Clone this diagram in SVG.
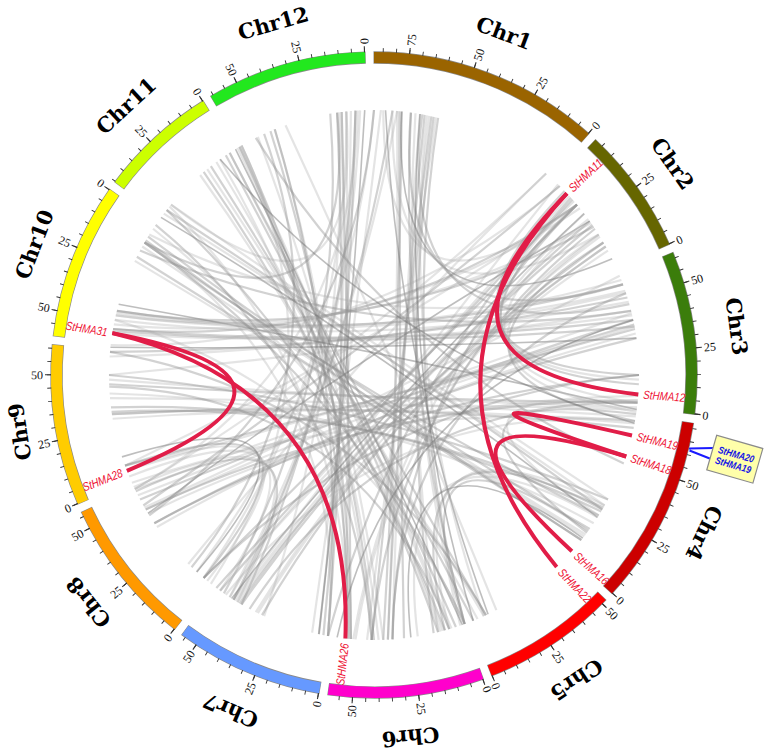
<svg xmlns="http://www.w3.org/2000/svg" width="774" height="752" viewBox="0 0 774 752">
<style>
.bo{fill:none;stroke:#8a8a8a;stroke-width:12.4}
.band{fill:none;stroke-width:11}
.tk{fill:none;stroke:#333;stroke-width:4}
.tM{fill:none;stroke:#333;stroke-width:6}
.tl{font-family:"Liberation Serif",serif;font-size:12px;fill:#111;dominant-baseline:central}
.e{text-anchor:end}
.cn{font-family:"DejaVu Serif",serif;font-weight:bold;font-size:21px;fill:#000;text-anchor:middle;dominant-baseline:central}
.gl{font-family:"Liberation Sans",sans-serif;font-style:italic;font-size:12px;fill:#ee1133;dominant-baseline:central}
.ch use{fill:none}
.a{stroke:#8a8a8a;stroke-opacity:.38;stroke-width:2.2}
.b{stroke:#aaaaaa;stroke-opacity:.32;stroke-width:2.2}
.c{stroke:#6e6e6e;stroke-opacity:.45;stroke-width:1.6}
.red path{fill:none;stroke:#e11d48;stroke-width:4}
.bx{font-family:"Liberation Sans",sans-serif;font-style:italic;font-weight:bold;font-size:10px;fill:#1414e6;text-anchor:middle;dominant-baseline:central}
</style>
<defs>
<path id="k13" d="M-59.61,-258.21Q0,-25 59.61,-258.21"/>
<path id="k14" d="M-64.11,-257.13Q0,-25 64.11,-257.13"/>
<path id="k15" d="M-68.59,-255.97Q0,-25 68.59,-255.97"/>
<path id="k16" d="M-73.04,-254.73Q0,-25 73.04,-254.73"/>
<path id="k17" d="M-77.48,-253.42Q0,-25 77.48,-253.42"/>
<path id="k20" d="M-90.64,-249.02Q0,-25 90.64,-249.02"/>
<path id="k21" d="M-94.97,-247.4Q0,-25 94.97,-247.4"/>
<path id="k22" d="M-99.27,-245.7Q0,-25 99.27,-245.7"/>
<path id="k24" d="M-107.79,-242.09Q0,-25 107.79,-242.09"/>
<path id="k26" d="M-116.17,-238.18Q0,-25 116.17,-238.18"/>
<path id="k27" d="M-120.31,-236.12Q0,-25 120.31,-236.12"/>
<path id="k29" d="M-128.47,-231.77Q0,-25 128.47,-231.77"/>
<path id="k31" d="M-136.48,-227.15Q0,-25 136.48,-227.15"/>
<path id="k32" d="M-140.43,-224.73Q0,-25 140.43,-224.73"/>
<path id="k52" d="M-208.82,-163.15Q0,-25 208.82,-163.15"/>
<path id="k55" d="M-217.08,-152Q0,-25 217.08,-152"/>
<path id="k56" d="M-219.7,-148.19Q0,-25 219.7,-148.19"/>
<path id="k57" d="M-222.25,-144.33Q0,-25 222.25,-144.33"/>
<path id="k60" d="M-229.5,-132.5Q0,-25 229.5,-132.5"/>
<path id="k61" d="M-231.77,-128.47Q0,-25 231.77,-128.47"/>
<path id="k62" d="M-233.98,-124.41Q0,-25 233.98,-124.41"/>
<path id="k63" d="M-236.12,-120.31Q0,-25 236.12,-120.31"/>
<path id="k64" d="M-238.18,-116.17Q0,-25 238.18,-116.17"/>
<path id="k65" d="M-240.17,-111.99Q0,-25 240.17,-111.99"/>
<path id="k66" d="M-242.09,-107.79Q0,-25 242.09,-107.79"/>
<path id="k67" d="M-243.93,-103.54Q0,-25 243.93,-103.54"/>
<path id="k68" d="M-245.7,-99.27Q0,-25 245.7,-99.27"/>
<path id="k69" d="M-247.4,-94.97Q0,-25 247.4,-94.97"/>
<path id="k70" d="M-249.02,-90.64Q0,-25 249.02,-90.64"/>
<path id="k71" d="M-250.56,-86.28Q0,-25 250.56,-86.28"/>
<path id="k72" d="M-252.03,-81.89Q0,-25 252.03,-81.89"/>
<path id="k73" d="M-253.42,-77.48Q0,-25 253.42,-77.48"/>
<path id="k74" d="M-254.73,-73.04Q0,-25 254.73,-73.04"/>
<path id="k75" d="M-255.97,-68.59Q0,-25 255.97,-68.59"/>
<path id="k76" d="M-257.13,-64.11Q0,-25 257.13,-64.11"/>
<path id="k77" d="M-258.21,-59.61Q0,-25 258.21,-59.61"/>
<path id="k78" d="M-259.21,-55.1Q0,-25 259.21,-55.1"/>
<path id="k79" d="M-260.13,-50.56Q0,-25 260.13,-50.56"/>
<path id="k80" d="M-260.97,-46.02Q0,-25 260.97,-46.02"/>
<path id="k81" d="M-261.74,-41.46Q0,-25 261.74,-41.46"/>
<path id="k82" d="M-262.42,-36.88Q0,-25 262.42,-36.88"/>
<path id="k83" d="M-263.03,-32.3Q0,-25 263.03,-32.3"/>
<path id="k84" d="M-263.55,-27.7Q0,-25 263.55,-27.7"/>
<path id="k85" d="M-263.99,-23.1Q0,-25 263.99,-23.1"/>
<path id="k86" d="M-264.35,-18.49Q0,-25 264.35,-18.49"/>
<path id="k88" d="M-264.84,-9.25Q0,-25 264.84,-9.25"/>
<path id="k89" d="M-264.96,-4.62Q0,-25 264.96,-4.62"/>
</defs>
<rect width="774" height="752" fill="#fff"/>

<g id="connectors">
<g class="ch" transform="translate(374,375)">
<use href="#k81" class="a" transform="rotate(271)"/>
<use href="#k84" class="b" transform="rotate(270)"/>
<use href="#k82" class="a" transform="rotate(274)"/>
<use href="#k83" class="c" transform="rotate(275)"/>
<use href="#k86" class="a" transform="rotate(92)"/>
<use href="#k83" class="b" transform="rotate(93)"/>
<use href="#k84" class="a" transform="rotate(96.5)"/>
<use href="#k84" class="b" transform="rotate(277.5)"/>
<use href="#k84" class="a" transform="rotate(89.5)"/>
<use href="#k73" class="a" transform="rotate(283)"/>
<use href="#k69" class="b" transform="rotate(291)"/>
<use href="#k76" class="a" transform="rotate(288)"/>
<use href="#k74" class="b" transform="rotate(278.5)"/>
<use href="#k76" class="a" transform="rotate(84)"/>
<use href="#k77" class="b" transform="rotate(89)"/>
<use href="#k76" class="c" transform="rotate(78.5)"/>
<use href="#k75" class="a" transform="rotate(255)"/>
<use href="#k76" class="b" transform="rotate(262)"/>
<use href="#k63" class="a" transform="rotate(113)"/>
<use href="#k63" class="b" transform="rotate(121)"/>
<use href="#k81" class="b" transform="rotate(272)"/>
<use href="#k84" class="a" transform="rotate(269)"/>
<use href="#k82" class="b" transform="rotate(273)"/>
<use href="#k86" class="b" transform="rotate(91)"/>
<use href="#k83" class="a" transform="rotate(94)"/>
<use href="#k84" class="b" transform="rotate(97.5)"/>
<use href="#k73" class="b" transform="rotate(284)"/>
<use href="#k76" class="b" transform="rotate(289)"/>
<use href="#k76" class="b" transform="rotate(85)"/>
<use href="#k77" class="a" transform="rotate(90)"/>
<use href="#k75" class="b" transform="rotate(254)"/>
<use href="#k76" class="a" transform="rotate(261)"/>
<use href="#k29" class="c" transform="rotate(35)"/>
<use href="#k31" class="a" transform="rotate(39)"/>
<use href="#k27" class="b" transform="rotate(31)"/>
<use href="#k32" class="a" transform="rotate(42.5)"/>
<use href="#k24" class="b" transform="rotate(26)"/>
<use href="#k26" class="a" transform="rotate(326)"/>
<use href="#k22" class="b" transform="rotate(332)"/>
<use href="#k68" class="a" transform="rotate(282.5)"/>
<use href="#k67" class="b" transform="rotate(287)"/>
<use href="#k73" class="a" transform="rotate(87)"/>
<use href="#k72" class="b" transform="rotate(83.5)"/>
<use href="#k77" class="a" transform="rotate(243)"/>
<use href="#k80" class="b" transform="rotate(243.5)"/>
<use href="#k82" class="a" transform="rotate(244)"/>
<use href="#k84" class="c" transform="rotate(244.5)"/>
<use href="#k86" class="b" transform="rotate(66.5)"/>
<use href="#k82" class="a" transform="rotate(240)"/>
<use href="#k82" class="b" transform="rotate(247.5)"/>
<use href="#k86" class="a" transform="rotate(241)"/>
<use href="#k77" class="b" transform="rotate(242)"/>
<use href="#k82" class="b" transform="rotate(245)"/>
<use href="#k82" class="b" transform="rotate(239)"/>
<use href="#k72" class="b" transform="rotate(252.5)"/>
<use href="#k72" class="a" transform="rotate(257.5)"/>
<use href="#k78" class="b" transform="rotate(256)"/>
<use href="#k74" class="a" transform="rotate(264)"/>
<use href="#k88" class="b" transform="rotate(312.5)"/>
<use href="#k84" class="a" transform="rotate(132.5)"/>
<use href="#k80" class="c" transform="rotate(132.5)"/>
<use href="#k78" class="a" transform="rotate(132.5)"/>
<use href="#k74" class="b" transform="rotate(132.5)"/>
<use href="#k72" class="a" transform="rotate(133)"/>
<use href="#k84" class="b" transform="rotate(128)"/>
<use href="#k85" class="a" transform="rotate(135)"/>
<use href="#k80" class="b" transform="rotate(135.5)"/>
<use href="#k75" class="a" transform="rotate(135)"/>
<use href="#k84" class="b" transform="rotate(131.5)"/>
<use href="#k78" class="b" transform="rotate(133.5)"/>
<use href="#k72" class="b" transform="rotate(134)"/>
<use href="#k75" class="b" transform="rotate(136)"/>
<use href="#k78" class="b" transform="rotate(322.5)"/>
<use href="#k82" class="a" transform="rotate(322.5)"/>
<use href="#k80" class="b" transform="rotate(330)"/>
<use href="#k88" class="c" transform="rotate(326.5)"/>
<use href="#k71" class="a" transform="rotate(119)"/>
<use href="#k66" class="b" transform="rotate(118.5)"/>
<use href="#k62" class="a" transform="rotate(118.5)"/>
<use href="#k73" class="a" transform="rotate(357)"/>
<use href="#k76" class="b" transform="rotate(358)"/>
<use href="#k79" class="a" transform="rotate(359)"/>
<use href="#k83" class="c" transform="rotate(359)"/>
<use href="#k86" class="a" transform="rotate(182)"/>
<use href="#k83" class="b" transform="rotate(182)"/>
<use href="#k80" class="a" transform="rotate(181.5)"/>
<use href="#k79" class="b" transform="rotate(353)"/>
<use href="#k86" class="c" transform="rotate(11.5)"/>
<use href="#k83" class="b" transform="rotate(353)"/>
<use href="#k74" class="b" transform="rotate(357.5)"/>
<use href="#k80" class="a" transform="rotate(359.5)"/>
<use href="#k82" class="b" transform="rotate(179.5)"/>
<use href="#k73" class="b" transform="rotate(356)"/>
<use href="#k79" class="b" transform="rotate(358)"/>
<use href="#k79" class="a" transform="rotate(354)"/>
<use href="#k86" class="b" transform="rotate(183)"/>
<use href="#k80" class="b" transform="rotate(180.5)"/>
<use href="#k71" class="a" transform="rotate(191)"/>
<use href="#k71" class="b" transform="rotate(195)"/>
<use href="#k76" class="a" transform="rotate(194)"/>
<use href="#k71" class="a" transform="rotate(192)"/>
<use href="#k65" class="a" transform="rotate(345)"/>
<use href="#k64" class="b" transform="rotate(340.5)"/>
<use href="#k66" class="a" transform="rotate(350)"/>
<use href="#k65" class="b" transform="rotate(346)"/>
<use href="#k66" class="b" transform="rotate(349)"/>
<use href="#k84" class="a" transform="rotate(212.5)"/>
<use href="#k86" class="b" transform="rotate(213)"/>
<use href="#k88" class="a" transform="rotate(213.5)"/>
<use href="#k88" class="c" transform="rotate(34.5)"/>
<use href="#k86" class="a" transform="rotate(34.5)"/>
<use href="#k84" class="b" transform="rotate(34)"/>
<use href="#k89" class="a" transform="rotate(211)"/>
<use href="#k84" class="b" transform="rotate(211.5)"/>
<use href="#k86" class="a" transform="rotate(214.5)"/>
<use href="#k86" class="b" transform="rotate(33.5)"/>
<use href="#k70" class="a" transform="rotate(230)"/>
<use href="#k74" class="b" transform="rotate(229.5)"/>
<use href="#k72" class="a" transform="rotate(236.5)"/>
<use href="#k77" class="a" transform="rotate(159)"/>
<use href="#k80" class="b" transform="rotate(159.5)"/>
<use href="#k82" class="a" transform="rotate(160)"/>
<use href="#k84" class="b" transform="rotate(160.5)"/>
<use href="#k86" class="b" transform="rotate(154)"/>
<use href="#k85" class="a" transform="rotate(165)"/>
<use href="#k77" class="b" transform="rotate(158)"/>
<use href="#k82" class="b" transform="rotate(161)"/>
<use href="#k85" class="b" transform="rotate(164)"/>
<use href="#k72" class="a" transform="rotate(167.5)"/>
<use href="#k73" class="b" transform="rotate(173)"/>
<use href="#k73" class="a" transform="rotate(163)"/>
<use href="#k72" class="b" transform="rotate(166.5)"/>
<use href="#k15" class="a" transform="rotate(235)"/>
<use href="#k16" class="b" transform="rotate(231.5)"/>
<use href="#k16" class="a" transform="rotate(228)"/>
<use href="#k15" class="c" transform="rotate(237)"/>
<use href="#k15" class="b" transform="rotate(234)"/>
<use href="#k16" class="b" transform="rotate(229)"/>
<use href="#k22" class="a" transform="rotate(142.5)"/>
<use href="#k24" class="b" transform="rotate(146.5)"/>
<use href="#k17" class="a" transform="rotate(143)"/>
<use href="#k22" class="c" transform="rotate(150)"/>
<use href="#k22" class="b" transform="rotate(141.5)"/>
<use href="#k21" class="a" transform="rotate(71)"/>
<use href="#k21" class="b" transform="rotate(75)"/>
<use href="#k22" class="a" transform="rotate(68)"/>
<use href="#k20" class="b" transform="rotate(78)"/>
<use href="#k20" class="a" transform="rotate(80)"/>
<use href="#k21" class="b" transform="rotate(70)"/>
<use href="#k22" class="b" transform="rotate(72)"/>
<use href="#k13" class="b" transform="rotate(109)"/>
<use href="#k14" class="a" transform="rotate(112.5)"/>
<use href="#k62" class="a" transform="rotate(242.5)"/>
<use href="#k62" class="b" transform="rotate(247.5)"/>
<use href="#k55" class="c" transform="rotate(133)"/>
<use href="#k52" class="a" transform="rotate(124)"/>
<use href="#k55" class="b" transform="rotate(245)"/>
<use href="#k60" class="a" transform="rotate(215)"/>
<use href="#k61" class="b" transform="rotate(221)"/>
<use href="#k52" class="a" transform="rotate(215.5)"/>
<use href="#k74" class="c" transform="rotate(84)"/>
<use href="#k56" class="a" transform="rotate(152)"/>
<use href="#k57" class="b" transform="rotate(157)"/>
<use href="#k65" class="a" transform="rotate(155)"/>
<use href="#k56" class="b" transform="rotate(274)"/>
<use href="#k56" class="a" transform="rotate(279.5)"/>
<use href="#k64" class="b" transform="rotate(6)"/>
<use href="#k69" class="a" transform="rotate(7)"/>
<use href="#k68" class="c" transform="rotate(32.5)"/>
<use href="#k68" class="a" transform="rotate(41.5)"/>
<use href="#k56" class="b" transform="rotate(300.5)"/>
<use href="#k61" class="a" transform="rotate(299)"/>
</g>
<g class="red">
<path d="M566.9,193.3Q397.6,366.6 638.3,394.4"/>
<path d="M566.9,193.3Q399,375.7 556.7,566.9"/>
<path d="M632,435.5Q398.1,381.7 626.2,456.5"/>
<path d="M626.2,456.5Q395.7,387.4 571.9,551.3"/>
<path d="M112.3,333.1Q349.1,377.6 126.9,470.8"/>
<path d="M112.3,333.1Q354.1,390.2 345.4,638.5"/>
</g>
<path d="M689,448.5L713.5,448M689.5,450.5L711,459" fill="none" stroke="#1a1aff" stroke-width="2"/>
</g>

<g id="chr1" transform="translate(374,375)">
<circle r="317.5" class="bo" stroke-dasharray="231.94 3000" transform="rotate(-90.09)"/>
<circle r="317.5" class="band" stroke="#9a6400" stroke-dasharray="230.94 3000" transform="rotate(-90)"/>
<circle r="325" class="tk" stroke-dasharray="0.9 12.43 0.9 12.43 0.9 12.43 0.9 12.43 0.9 12.43 0.9 12.43 0.9 12.43 0.9 12.43 0.9 12.43 0.9 12.43 0.9 12.43 0.9 12.43 0.9 12.43 0.9 12.43 0.9 12.43 0.9 12.43 0.9 12.43 0.9 3000" transform="rotate(-48.324) scale(1,-1)"/>
<circle r="326" class="tM" stroke-dasharray="1.1 65.76 1.1 65.76 1.1 65.76 1.1 3000" transform="rotate(-48.324) scale(1,-1)"/>
<text class="tl" transform="rotate(-48.324)" x="331">0</text>
<text class="tl" transform="rotate(-60.075)" x="331">25</text>
<text class="tl" transform="rotate(-71.827)" x="331">50</text>
<text class="tl" transform="rotate(-83.578)" x="331">75</text>
<text class="cn" transform="rotate(20.838)" y="-366">Chr1</text>
</g>
<g id="chr2" transform="translate(374,375)">
<circle r="317.5" class="bo" stroke-dasharray="127.62 3000" transform="rotate(-46.814)"/>
<circle r="317.5" class="band" stroke="#666600" stroke-dasharray="126.62 3000" transform="rotate(-46.724)"/>
<circle r="325" class="tk" stroke-dasharray="0.9 12.43 0.9 12.43 0.9 12.43 0.9 12.43 0.9 12.43 0.9 12.43 0.9 12.43 0.9 12.43 0.9 12.43 0.9 3000" transform="rotate(-23.874) scale(1,-1)"/>
<circle r="326" class="tM" stroke-dasharray="1.1 65.76 1.1 3000" transform="rotate(-23.874) scale(1,-1)"/>
<text class="tl" transform="rotate(-23.874)" x="331">0</text>
<text class="tl" transform="rotate(-35.625)" x="331">25</text>
<text class="cn" transform="rotate(54.701)" y="-366">Chr2</text>
</g>
<g id="chr3" transform="translate(374,375)">
<circle r="317.5" class="bo" stroke-dasharray="163.25 3000" transform="rotate(-22.364)"/>
<circle r="317.5" class="band" stroke="#3b7d0b" stroke-dasharray="162.25 3000" transform="rotate(-22.274)"/>
<circle r="325" class="tk" stroke-dasharray="0.9 12.43 0.9 12.43 0.9 12.43 0.9 12.43 0.9 12.43 0.9 12.43 0.9 12.43 0.9 12.43 0.9 12.43 0.9 12.43 0.9 12.43 0.9 12.43 0.9 3000" transform="rotate(7.006) scale(1,-1)"/>
<circle r="326" class="tM" stroke-dasharray="1.1 65.76 1.1 65.76 1.1 3000" transform="rotate(7.006) scale(1,-1)"/>
<text class="tl" transform="rotate(7.006)" x="331">0</text>
<text class="tl" transform="rotate(-4.745)" x="331">25</text>
<text class="tl" transform="rotate(-16.497)" x="331">50</text>
<text class="cn" transform="rotate(82.366)" y="-366">Chr3</text>
</g>
<g id="chr4" transform="translate(374,375)">
<circle r="317.5" class="bo" stroke-dasharray="189.09 3000" transform="rotate(8.516)"/>
<circle r="317.5" class="band" stroke="#cc0000" stroke-dasharray="188.09 3000" transform="rotate(8.606)"/>
<circle r="325" class="tk" stroke-dasharray="0.9 12.43 0.9 12.43 0.9 12.43 0.9 12.43 0.9 12.43 0.9 12.43 0.9 12.43 0.9 12.43 0.9 12.43 0.9 12.43 0.9 12.43 0.9 12.43 0.9 12.43 0.9 12.43 0.9 3000" transform="rotate(42.549) scale(1,-1)"/>
<circle r="326" class="tM" stroke-dasharray="1.1 65.76 1.1 65.76 1.1 3000" transform="rotate(42.549) scale(1,-1)"/>
<text class="tl" transform="rotate(42.549)" x="331">0</text>
<text class="tl" transform="rotate(30.798)" x="331">25</text>
<text class="tl" transform="rotate(19.046)" x="331">50</text>
<text class="cn" transform="rotate(115.578)" y="-366">Chr4</text>
</g>
<g id="chr5" transform="translate(374,375)">
<circle r="317.5" class="bo" stroke-dasharray="136.63 3000" transform="rotate(44.059)"/>
<circle r="317.5" class="band" stroke="#ff0000" stroke-dasharray="135.63 3000" transform="rotate(44.149)"/>
<circle r="325" class="tk" stroke-dasharray="0.9 12.43 0.9 12.43 0.9 12.43 0.9 12.43 0.9 12.43 0.9 12.43 0.9 12.43 0.9 12.43 0.9 12.43 0.9 12.43 0.9 3000" transform="rotate(68.625) scale(1,-1)"/>
<circle r="326" class="tM" stroke-dasharray="1.1 65.76 1.1 65.76 1.1 3000" transform="rotate(68.625) scale(1,-1)"/>
<text class="tl" transform="rotate(68.625)" x="331">0</text>
<text class="tl" transform="rotate(56.874)" x="331">25</text>
<text class="tl" transform="rotate(45.122)" x="331">50</text>
<text class="cn" transform="rotate(146.387)" y="-366">Chr5</text>
</g>
<g id="chr6" transform="translate(374,375)">
<circle r="317.5" class="bo" stroke-dasharray="156.07 3000" transform="rotate(70.135)"/>
<circle r="317.5" class="band" stroke="#ff00cc" stroke-dasharray="155.07 3000" transform="rotate(70.225)"/>
<circle r="325" class="tk" stroke-dasharray="0.9 12.43 0.9 12.43 0.9 12.43 0.9 12.43 0.9 12.43 0.9 12.43 0.9 12.43 0.9 12.43 0.9 12.43 0.9 12.43 0.9 12.43 0.9 3000" transform="rotate(70.225)"/>
<circle r="326" class="tM" stroke-dasharray="1.1 65.76 1.1 65.76 1.1 3000" transform="rotate(70.225)"/>
<text class="tl" transform="rotate(70.225)" x="331">0</text>
<text class="tl" transform="rotate(81.977)" x="331">25</text>
<text class="tl e" transform="rotate(273.728)" x="-331">50</text>
<text class="cn" transform="rotate(174.217)" y="-364">Chr6</text>
</g>
<g id="chr7" transform="translate(374,375)">
<circle r="317.5" class="bo" stroke-dasharray="148.85 3000" transform="rotate(99.718)"/>
<circle r="317.5" class="band" stroke="#6699ff" stroke-dasharray="147.85 3000" transform="rotate(99.808)"/>
<circle r="325" class="tk" stroke-dasharray="0.9 12.43 0.9 12.43 0.9 12.43 0.9 12.43 0.9 12.43 0.9 12.43 0.9 12.43 0.9 12.43 0.9 12.43 0.9 12.43 0.9 12.43 0.9 3000" transform="rotate(99.808)"/>
<circle r="326" class="tM" stroke-dasharray="1.1 65.76 1.1 65.76 1.1 3000" transform="rotate(99.808)"/>
<text class="tl e" transform="rotate(279.808)" x="-331">0</text>
<text class="tl e" transform="rotate(291.56)" x="-331">25</text>
<text class="tl e" transform="rotate(303.311)" x="-331">50</text>
<text class="cn" transform="rotate(203.149)" y="-365">Chr7</text>
</g>
<g id="chr8" transform="translate(374,375)">
<circle r="317.5" class="bo" stroke-dasharray="149.31 3000" transform="rotate(127.999)"/>
<circle r="317.5" class="band" stroke="#ff9900" stroke-dasharray="148.31 3000" transform="rotate(128.089)"/>
<circle r="325" class="tk" stroke-dasharray="0.9 12.43 0.9 12.43 0.9 12.43 0.9 12.43 0.9 12.43 0.9 12.43 0.9 12.43 0.9 12.43 0.9 12.43 0.9 12.43 0.9 12.43 0.9 3000" transform="rotate(128.089)"/>
<circle r="326" class="tM" stroke-dasharray="1.1 65.76 1.1 65.76 1.1 3000" transform="rotate(128.089)"/>
<text class="tl e" transform="rotate(308.089)" x="-331">0</text>
<text class="tl e" transform="rotate(319.841)" x="-331">25</text>
<text class="tl e" transform="rotate(331.592)" x="-331">50</text>
<text class="cn" transform="rotate(231.472)" y="-365">Chr8</text>
</g>
<g id="chr9" transform="translate(374,375)">
<circle r="317.5" class="bo" stroke-dasharray="161.3 3000" transform="rotate(156.364)"/>
<circle r="317.5" class="band" stroke="#ffcc00" stroke-dasharray="160.3 3000" transform="rotate(156.454)"/>
<circle r="325" class="tk" stroke-dasharray="0.9 12.43 0.9 12.43 0.9 12.43 0.9 12.43 0.9 12.43 0.9 12.43 0.9 12.43 0.9 12.43 0.9 12.43 0.9 12.43 0.9 12.43 0.9 12.43 0.9 3000" transform="rotate(156.454)"/>
<circle r="326" class="tM" stroke-dasharray="1.1 65.76 1.1 65.76 1.1 3000" transform="rotate(156.454)"/>
<text class="tl e" transform="rotate(336.454)" x="-331">0</text>
<text class="tl e" transform="rotate(348.206)" x="-331">25</text>
<text class="tl e" transform="rotate(359.957)" x="-331">50</text>
<text class="cn" transform="rotate(260.918)" y="-359">Chr9</text>
</g>
<g id="chr10" transform="translate(374,375)">
<circle r="317.5" class="bo" stroke-dasharray="156.66 3000" transform="rotate(186.892)"/>
<circle r="317.5" class="band" stroke="#ffff00" stroke-dasharray="155.66 3000" transform="rotate(186.982)"/>
<circle r="325" class="tk" stroke-dasharray="0.9 12.43 0.9 12.43 0.9 12.43 0.9 12.43 0.9 12.43 0.9 12.43 0.9 12.43 0.9 12.43 0.9 12.43 0.9 12.43 0.9 12.43 0.9 3000" transform="rotate(215.073) scale(1,-1)"/>
<circle r="326" class="tM" stroke-dasharray="1.1 65.76 1.1 65.76 1.1 3000" transform="rotate(215.073) scale(1,-1)"/>
<text class="tl e" transform="rotate(35.073)" x="-331">0</text>
<text class="tl e" transform="rotate(23.322)" x="-331">25</text>
<text class="tl e" transform="rotate(11.57)" x="-331">50</text>
<text class="cn" transform="rotate(291.028)" y="-364">Chr10</text>
</g>
<g id="chr11" transform="translate(374,375)">
<circle r="317.5" class="bo" stroke-dasharray="119.46 3000" transform="rotate(216.583)"/>
<circle r="317.5" class="band" stroke="#ccff00" stroke-dasharray="118.46 3000" transform="rotate(216.673)"/>
<circle r="325" class="tk" stroke-dasharray="0.9 12.43 0.9 12.43 0.9 12.43 0.9 12.43 0.9 12.43 0.9 12.43 0.9 12.43 0.9 12.43 0.9 12.43 0.9 3000" transform="rotate(238.051) scale(1,-1)"/>
<circle r="326" class="tM" stroke-dasharray="1.1 65.76 1.1 3000" transform="rotate(238.051) scale(1,-1)"/>
<text class="tl e" transform="rotate(58.051)" x="-331">0</text>
<text class="tl e" transform="rotate(46.3)" x="-331">25</text>
<text class="cn" transform="rotate(317.362)" y="-366">Chr11</text>
</g>
<g id="chr12" transform="translate(374,375)">
<circle r="317.5" class="bo" stroke-dasharray="160.34 3000" transform="rotate(239.561)"/>
<circle r="317.5" class="band" stroke="#22e81e" stroke-dasharray="159.34 3000" transform="rotate(239.651)"/>
<circle r="325" class="tk" stroke-dasharray="0.9 12.43 0.9 12.43 0.9 12.43 0.9 12.43 0.9 12.43 0.9 12.43 0.9 12.43 0.9 12.43 0.9 12.43 0.9 12.43 0.9 12.43 0.9 12.43 0.9 3000" transform="rotate(268.405) scale(1,-1)"/>
<circle r="326" class="tM" stroke-dasharray="1.1 65.76 1.1 65.76 1.1 3000" transform="rotate(268.405) scale(1,-1)"/>
<text class="tl e" transform="rotate(88.405)" x="-331">0</text>
<text class="tl e" transform="rotate(76.654)" x="-331">25</text>
<text class="tl e" transform="rotate(64.902)" x="-331">50</text>
<text class="cn" transform="rotate(344.028)" y="-366">Chr12</text>
</g>

<g id="genes" transform="translate(374,375)">
<text class="gl" transform="rotate(-43.3)" x="270" textLength="42" lengthAdjust="spacingAndGlyphs">StHMA11</text>
<text class="gl" transform="rotate(4.2)" x="270" textLength="42" lengthAdjust="spacingAndGlyphs">StHMA12</text>
<text class="gl" transform="rotate(13.2)" x="270" textLength="42" lengthAdjust="spacingAndGlyphs">StHMA19</text>
<text class="gl" transform="rotate(17.9)" x="270" textLength="42" lengthAdjust="spacingAndGlyphs">StHMA18</text>
<text class="gl" transform="rotate(41.7)" x="270" textLength="42" lengthAdjust="spacingAndGlyphs">StHMA16</text>
<text class="gl" transform="rotate(46.4)" x="270" textLength="42" lengthAdjust="spacingAndGlyphs">StHMA22</text>
<text class="gl e" transform="rotate(276.2)" x="-270" textLength="42" lengthAdjust="spacingAndGlyphs">StHMA26</text>
<text class="gl e" transform="rotate(9.1)" x="-270" textLength="42" lengthAdjust="spacingAndGlyphs">StHMA31</text>
<text class="gl e" transform="rotate(338.8)" x="-270" textLength="42" lengthAdjust="spacingAndGlyphs">StHMA28</text>
</g>

<g id="tandem-box" transform="translate(734.8,459.2) rotate(16)">
<rect x="-24" y="-18" width="48" height="36" fill="#ffffaa" stroke="#8a8a8a" stroke-width="1.2"/>
<text class="bx" y="-5" textLength="37" lengthAdjust="spacingAndGlyphs">StHMA20</text>
<text class="bx" y="6" textLength="37" lengthAdjust="spacingAndGlyphs">StHMA19</text>
</g>
</svg>
